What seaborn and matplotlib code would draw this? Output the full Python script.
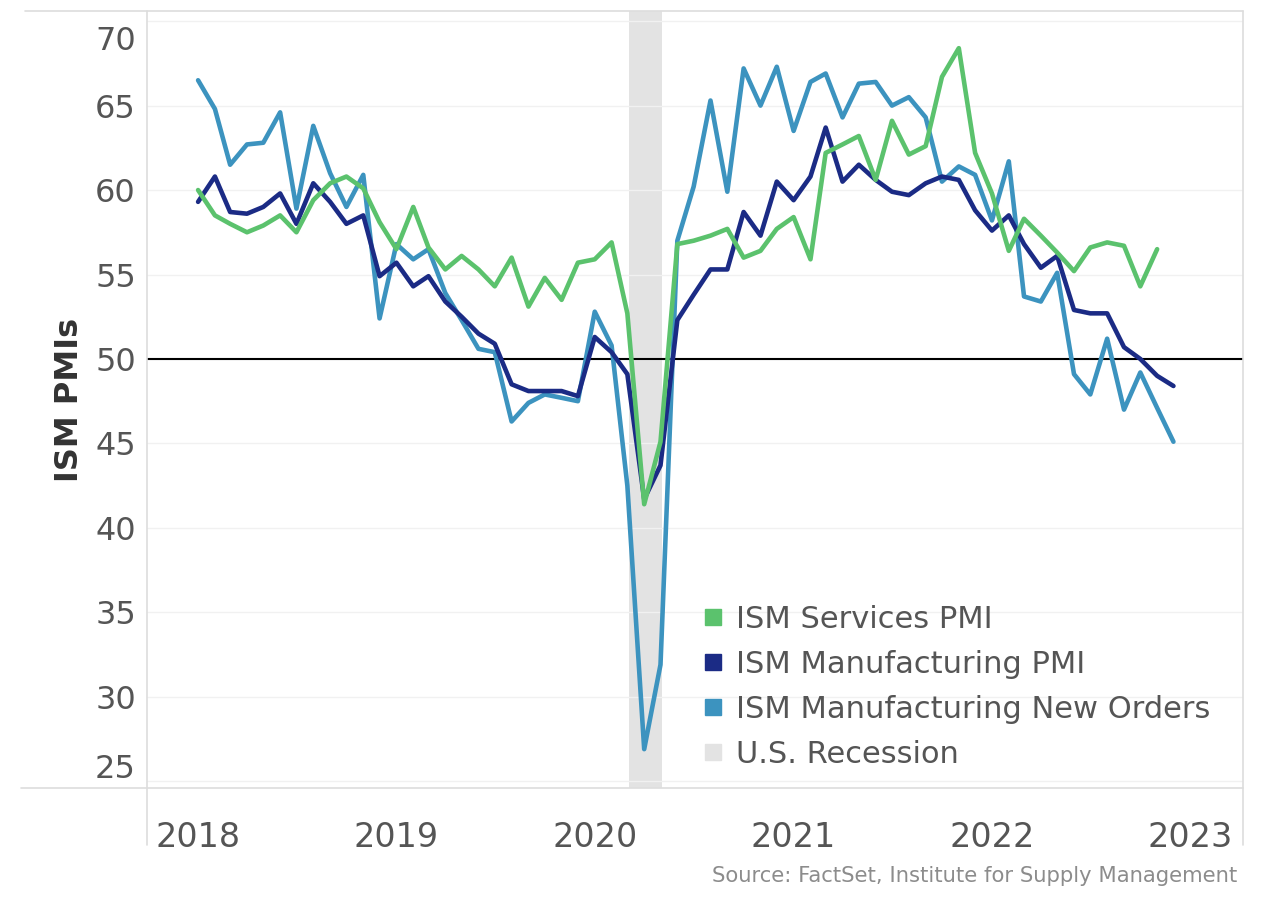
import pandas as pd
import matplotlib
matplotlib.use("Agg")
import matplotlib.pyplot as plt
import matplotlib.transforms as mtransforms
from matplotlib.lines import Line2D
import seaborn as sns

# Monthly readings, Jan 2018 onwards
services_pmi = [60.0, 58.5, 58.0, 57.5, 57.9, 58.5, 57.5, 59.4, 60.4, 60.8, 60.1, 58.1,
                56.5, 59.0, 56.6, 55.3, 56.1, 55.3, 54.3, 56.0, 53.1, 54.8, 53.5, 55.7,
                55.9, 56.9, 52.7, 41.4, 45.1, 56.8, 57.0, 57.3, 57.7, 56.0, 56.4, 57.7,
                58.4, 55.9, 62.2, 62.7, 63.2, 60.6, 64.1, 62.1, 62.6, 66.7, 68.4, 62.2,
                59.8, 56.4, 58.3, 57.3, 56.3, 55.2, 56.6, 56.9, 56.7, 54.3, 56.5]
manufacturing_pmi = [59.3, 60.8, 58.7, 58.6, 59.0, 59.8, 58.0, 60.4, 59.3, 58.0, 58.5, 54.9,
                     55.7, 54.3, 54.9, 53.4, 52.5, 51.5, 50.9, 48.5, 48.1, 48.1, 48.1, 47.8,
                     51.3, 50.4, 49.1, 41.7, 43.7, 52.3, 53.8, 55.3, 55.3, 58.7, 57.3, 60.5,
                     59.4, 60.8, 63.7, 60.5, 61.5, 60.6, 59.9, 59.7, 60.4, 60.8, 60.6, 58.8,
                     57.6, 58.5, 56.8, 55.4, 56.1, 52.9, 52.7, 52.7, 50.7, 50.0, 49.0, 48.4]
new_orders = [66.5, 64.8, 61.5, 62.7, 62.8, 64.6, 58.9, 63.8, 61.0, 59.0, 60.9, 52.4,
              56.8, 55.9, 56.5, 53.9, 52.3, 50.6, 50.4, 46.3, 47.4, 47.9, 47.7, 47.5,
              52.8, 50.8, 42.5, 26.9, 31.9, 57.0, 60.2, 65.3, 59.9, 67.2, 65.0, 67.3,
              63.5, 66.4, 66.9, 64.3, 66.3, 66.4, 65.0, 65.5, 64.3, 60.5, 61.4, 60.9,
              58.2, 61.7, 53.7, 53.4, 55.1, 49.1, 47.9, 51.2, 47.0, 49.2, 47.1, 45.1]

series_names = ["ISM Services PMI", "ISM Manufacturing PMI", "ISM Manufacturing New Orders"]
series_colors = ["#5BC26D", "#1B2B85", "#3C93BF"]
recession_color = "#E3E3E3"
recession_start = "2020-03-04"
recession_end = "2020-05-04"

y_ticks = [25, 30, 35, 40, 45, 50, 55, 60, 65, 70]
x_years = [2018, 2019, 2020, 2021, 2022, 2023]

rows = []
for name, values in zip(series_names, [services_pmi, manufacturing_pmi, new_orders]):
    dates = pd.date_range("2018-01-01", periods=len(values), freq="MS")
    for d, v in zip(dates, values):
        rows.append({"Date": d, "Value": v, "Series": name})
df = pd.DataFrame(rows)

sns.set_theme(style="white")
plt.rcParams['font.family'] = ['DejaVu Sans']

fig = plt.figure(figsize=(12.62, 8.98), dpi=100)
ax = fig.add_axes([147 / 1262, 1 - 788 / 898, 1096 / 1262, 777 / 898])

ax.axvspan(pd.Timestamp(recession_start), pd.Timestamp(recession_end),
           color=recession_color, lw=0, zorder=0)
for t in y_ticks:
    ax.axhline(t, color="#F1F1F1", lw=1, zorder=0)
ax.axhline(50, color="black", lw=1.5, zorder=1)

sns.lineplot(data=df, x="Date", y="Value", hue="Series",
             palette=dict(zip(series_names, series_colors)),
             hue_order=series_names[::-1], linewidth=3.3, legend=False, ax=ax, zorder=3)

ax.set_xlim(pd.Timestamp("2017-09-29"), pd.Timestamp("2023-04-08"))
ax.set_ylim(24.6, 70.6)
ax.set_yticks(y_ticks)
ax.set_yticklabels([str(t) for t in y_ticks])
ax.set_xticks([pd.Timestamp(f"{y}-01-01") for y in x_years])
ax.set_xticklabels([str(y) for y in x_years])
ax.tick_params(axis="y", length=0, pad=8, labelsize=23, labelcolor="#555555")
ax.tick_params(axis="x", length=4, width=1, color="#E6E6E6", pad=20,
               labelsize=24, labelcolor="#555555")

# Tableau keeps the edge labels inside the pane
lbls = ax.get_yticklabels()
lbls[-1].set_transform(lbls[-1].get_transform() +
                       mtransforms.ScaledTranslation(0, -0.17, fig.dpi_scale_trans))
lbls[0].set_transform(lbls[0].get_transform() +
                      mtransforms.ScaledTranslation(0, 0.15, fig.dpi_scale_trans))

ax.set_xlabel("")
ax.set_ylabel("ISM PMIs", fontsize=23, fontweight="bold", color="#333333", labelpad=7)
for s in ax.spines.values():
    s.set_visible(False)

# light frame lines
frame = dict(color="#DDDDDD", lw=1.2, transform=ax.transAxes, clip_on=False)
ax.plot([-0.111, 1.0], [1.0, 1.0], **frame)
ax.plot([-0.115, 1.0], [0.0, 0.0], **frame)
ax.plot([0.0, 0.0], [1.0, -0.073], **frame)
ax.plot([1.0, 1.0], [1.0, -0.073], **frame)

handles = [Line2D([], [], marker="s", linestyle="none", markersize=11.5, color=c)
           for c in series_colors]
handles.append(Line2D([], [], marker="s", linestyle="none", markersize=11.5, color=recession_color))
leg = ax.legend(handles, series_names + ["U.S. Recession"], loc="upper left",
                bbox_to_anchor=(0.493, 0.255), frameon=False, fontsize=22,
                handlelength=0.7, handletextpad=0.4, labelspacing=0.52, borderpad=0)
for txt in leg.get_texts():
    txt.set_color("#555555")

fig.text(1237 / 1262, 1 - 876 / 898, "Source: FactSet, Institute for Supply Management",
         ha="right", va="center", fontsize=15.2, color="#8C8C8C")

fig.savefig("out.png", dpi=100)
